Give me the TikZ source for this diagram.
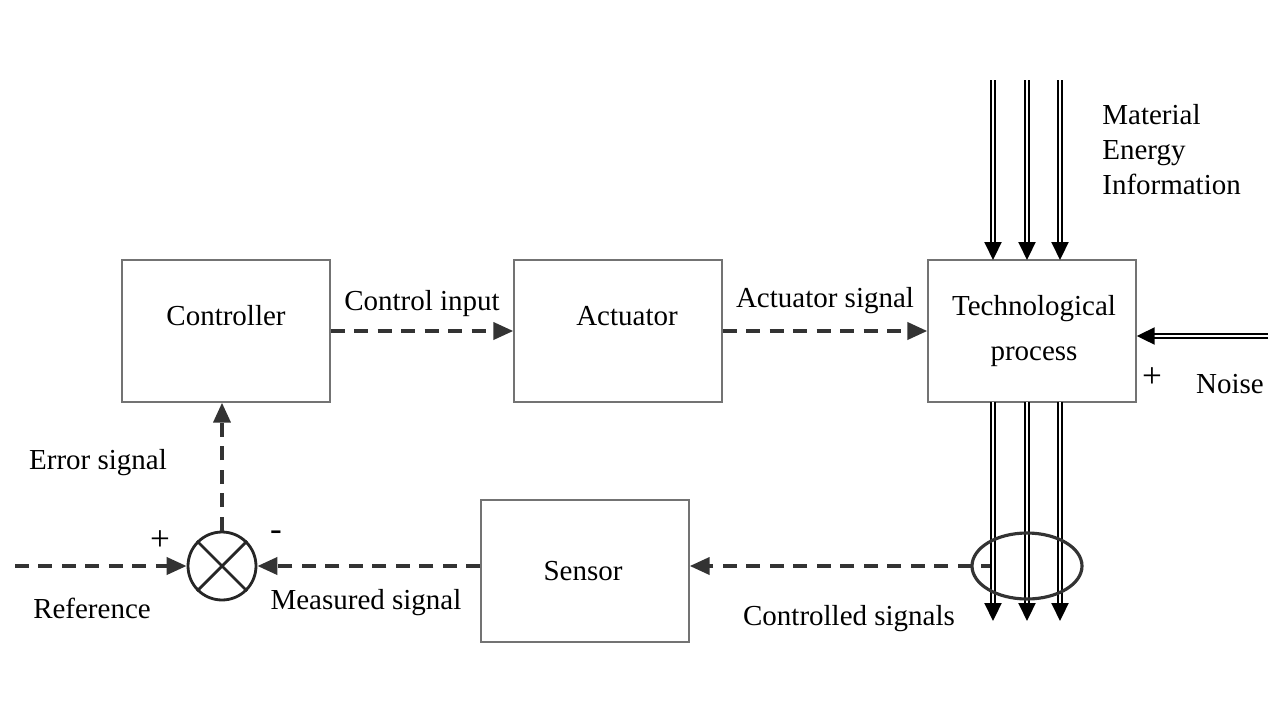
\documentclass[tikz,border=0pt]{standalone}
\usepackage{fontspec}
\setmainfont{Liberation Serif}
\usetikzlibrary{arrows.meta}

\begin{document}
\begin{tikzpicture}[x=0.02cm, y=-0.02cm, block/.style={draw=black!55, line width=0.8pt, minimum width=4.16cm, minimum height=2.84cm}, txt/.style={font=\fontsize{16.5}{20}\selectfont}, sign/.style={font=\fontsize{20}{20}\selectfont}, sig/.style={-{Triangle[length=4mm, width=3.4mm]}, line width=2.2pt, dash pattern=on 0.28cm off 0.19cm, draw=black!80}, flow/.style={double=white, double distance=1.2pt, line width=1.2pt, -{Triangle[length=3.6mm, width=3.4mm]}}]

\useasboundingbox (0,0) rectangle (1280,720);

% blocks
\node[block] (ctrl) at (226,331) {}; \node[block] (act) at (618,331) {};
\node[block] (proc) at (1032,331) {}; \node[block] (sens) at (585,571) {};
\node[txt] (ctrlT) at (226,316) {Controller};
\node[txt] (actT) at (627,316) {Actuator};
\node[txt, align=center] (procT) at (1034,331) {Technological\\[6pt]process};
\node[txt] (sensT) at (583,571) {Sensor};

% summing junction
\node[circle, draw=black!85, line width=1.6pt, minimum size=1.36cm] (sum) at (222,566) {};
\draw[black!85, line width=1.6pt] (sum.north west) -- (sum.south east) (sum.north east) -- (sum.south west);

% signals
\coordinate (ref) at (15,566); \coordinate (tap) at (995,566);
\draw[sig] (ctrl.east) -- (act.west) node[midway, above=0.13cm, txt] {Control input};
\draw[sig] (act.east) -- (proc.west) node[midway, above=0.19cm, txt] {Actuator signal};
\draw[sig] (ref) -- (sum.west);
\draw[sig] (sens.west |- sum) -- (sum.east);
\draw[sig] (sum.north) -- (sum.north |- ctrl.south);
\draw[sig] (tap) -- (sens.east |- tap);

% material flows
\foreach \px in {993,1027,1060} {
  \draw[flow] (\px,80) -- (\px,260);
  \draw[flow] (\px,402) -- (\px,621);
}
\coordinate (noise) at (1268,336);
\draw[flow] (noise) -- (proc.east |- noise);
\draw[black!80, line width=1.8pt] (1027,566) ellipse [x radius=1.1cm, y radius=0.66cm];

% labels
\node[txt, align=left, anchor=north west, inner sep=0pt] (mat) at (1102,104) {Material\\Energy\\Information};
\node[sign] (plusN) at (1152,378) {+};
\node[txt] (noiseT) at (1230,384) {Noise};
\node[txt] (err) at (98,463) {Error signal};
\node[sign] (plusR) at (160,541) {+};
\node[sign] (minus) at (276,536) {-};
\node[txt] (refT) at (92,608) {Reference};
\node[txt] (meas) at (366,603) {Measured signal};
\node[txt] (ctrld) at (849,619) {Controlled signals};
\end{tikzpicture}
\end{document}
